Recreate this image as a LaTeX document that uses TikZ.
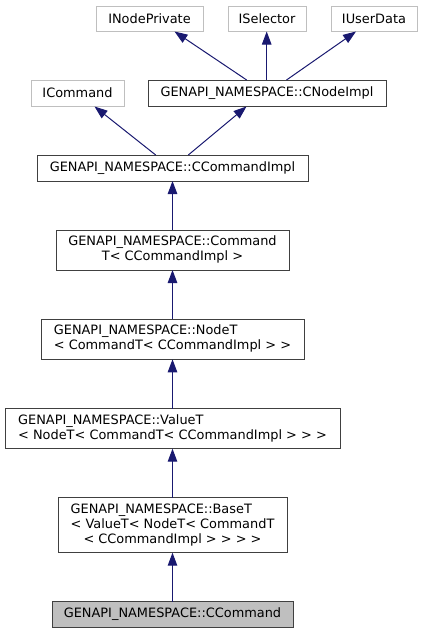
\documentclass[tikz,border=0pt]{standalone}
\usepackage{fontspec}
\setmainfont{DejaVu Sans}
\usetikzlibrary{arrows.meta}
\definecolor{edgecol}{HTML}{191970}
\definecolor{docborder}{HTML}{404040}
\definecolor{undocborder}{HTML}{BFBFBF}
\definecolor{curfill}{HTML}{BFBFBF}
\begin{document}
\begin{tikzpicture}[x=1pt,y=-1pt,
  every node/.style={font=\fontsize{12.9}{15}\selectfont, inner sep=0pt, outer sep=0pt},
  cls/.style={draw=docborder, line width=1pt, fill=white, rectangle},
  ext/.style={draw=undocborder, line width=1pt, fill=white, rectangle},
  cur/.style={draw=docborder, line width=1pt, fill=curfill, rectangle},
  inh/.style={draw=edgecol, line width=1pt, -{Triangle[length=13pt,width=9.5pt]}, shorten >=0pt}
]
\useasboundingbox (0,0) rectangle (423,633);

\node[ext, minimum width=107pt, minimum height=25pt] (inp) at (149.5,18.5) {INodePrivate};
\node[ext, minimum width=78pt, minimum height=25pt] (isel) at (267,18.5) {ISelector};
\node[ext, minimum width=86pt, minimum height=25pt] (iud) at (374,18.5) {IUserData};
\node[ext, minimum width=93pt, minimum height=26pt] (icmd) at (77.5,93) {ICommand};
\node[cls, minimum width=238pt, minimum height=26pt] (cni) at (267,93) {GENAPI\_NAMESPACE::CNodeImpl};
\node[cls, minimum width=271pt, minimum height=26pt] (cci) at (172.5,168) {GENAPI\_NAMESPACE::CCommandImpl};
\node[cls, minimum width=233pt, minimum height=40pt] (cmdt) at (172.5,250)
  {\begin{tabular}{@{}c@{}}GENAPI\_NAMESPACE::Command\\T< CCommandImpl >\end{tabular}};
\node[cls, minimum width=263pt, minimum height=40pt] (nodet) at (172.5,339.3)
  {\begin{tabular}{@{}l@{}}GENAPI\_NAMESPACE::NodeT\\< CommandT< CCommandImpl > >\end{tabular}};
\node[cls, minimum width=335pt, minimum height=40pt] (valuet) at (172.5,428.7)
  {\begin{tabular}{@{}l@{}}GENAPI\_NAMESPACE::ValueT\\< NodeT< CommandT< CCommandImpl > > >\end{tabular}};
\node[cls, minimum width=229pt, minimum height=55pt] (baset) at (172.5,525.2)
  {\begin{tabular}{@{}l@{}}GENAPI\_NAMESPACE::BaseT\\< ValueT< NodeT< CommandT\\\multicolumn{1}{@{}c@{}}{< CCommandImpl > > > >}\end{tabular}};
\node[cur, minimum width=241pt, minimum height=26pt] (ccmd) at (172.5,614.5) {GENAPI\_NAMESPACE::CCommand};

\coordinate (cniA) at (246.7,80);
\coordinate (cniB) at (266.7,80);
\coordinate (cniC) at (286.5,80);
\coordinate (inpT) at (174.5,31.5);
\coordinate (iselT) at (266.7,31.5);
\coordinate (iudT) at (356,31.5);
\coordinate (cciA) at (155.7,155);
\coordinate (cciB) at (188.3,155);
\coordinate (icmdT) at (94.5,106.5);
\coordinate (cniT) at (246.5,106.5);

\draw[inh] (cniA) -- (inpT);
\draw[inh] (cniB) -- (iselT);
\draw[inh] (cniC) -- (iudT);
\draw[inh] (cciA) -- (icmdT);
\draw[inh] (cciB) -- (cniT);
\draw[inh] (cmdt.north) -- (cci.south);
\draw[inh] (nodet.north) -- (cmdt.south);
\draw[inh] (valuet.north) -- (nodet.south);
\draw[inh] (baset.north) -- (valuet.south);
\draw[inh] (ccmd.north) -- (baset.south);
\end{tikzpicture}
\end{document}
